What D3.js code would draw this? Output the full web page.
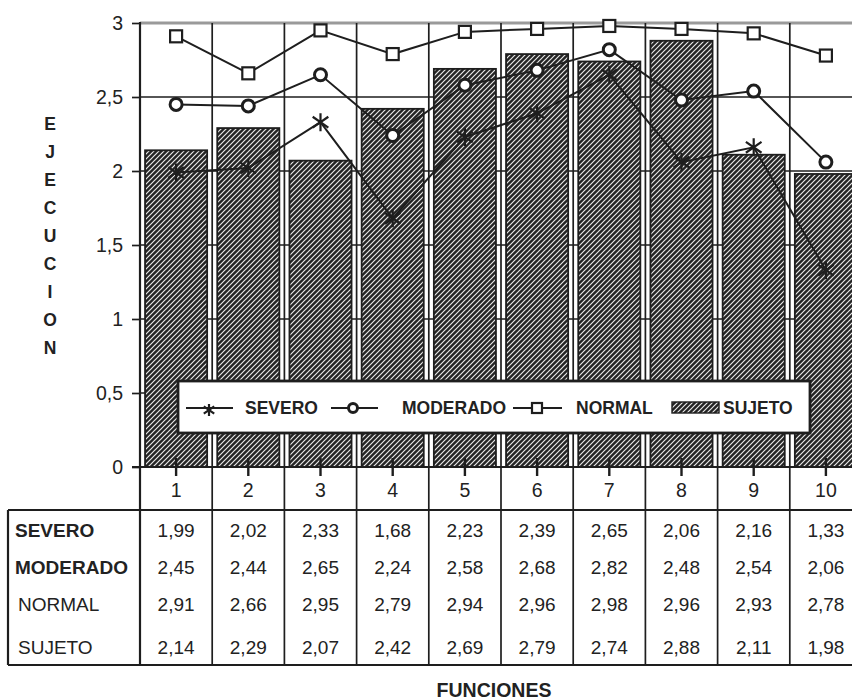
<!DOCTYPE html>
<html>
<head>
<meta charset="utf-8">
<script src="https://cdn.jsdelivr.net/npm/d3@7"></script>
<style>
  html, body { margin: 0; padding: 0; background: #fff; }
  svg { display: block; font-family: "Liberation Sans", Arial, Helvetica, sans-serif; }
</style>
</head>
<body>
<svg id="chart" width="852" height="700"></svg>
<script>
// ---- data ----
const categories = ["1", "2", "3", "4", "5", "6", "7", "8", "9", "10"];
const severo   = [1.99, 2.02, 2.33, 1.68, 2.23, 2.39, 2.65, 2.06, 2.16, 1.33];
const moderado = [2.45, 2.44, 2.65, 2.24, 2.58, 2.68, 2.82, 2.48, 2.54, 2.06];
const normal   = [2.91, 2.66, 2.95, 2.79, 2.94, 2.96, 2.98, 2.96, 2.93, 2.78];
const sujeto   = [2.14, 2.29, 2.07, 2.42, 2.69, 2.79, 2.74, 2.88, 2.11, 1.98];
const yTicks = [0, 0.5, 1, 1.5, 2, 2.5, 3];
const yTickLabels = ["0", "0,5", "1", "1,5", "2", "2,5", "3"];
const seriesNames = ["SEVERO", "MODERADO", "NORMAL", "SUJETO"];
const yTitle = "EJECUCION";
const xTitle = "FUNCIONES";

// ---- layout ----
const svg = d3.select("#chart");
const pL = 140, pR = 862, pT = 23, pB = 467;
const ink = "#1e1e1e";

const x = d3.scaleBand().domain(categories).range([pL, pR]).paddingInner(0.14).paddingOuter(0.07);
const y = d3.scaleLinear().domain([0, 3]).range([pB, pT]);
const step = x.step();
const cx = c => x(c) + x.bandwidth() / 2;
const colLeft = i => pL + i * step;

// pattern
const defs = svg.append("defs");
const pat = defs.append("pattern").attr("id", "hatch").attr("patternUnits", "userSpaceOnUse")
  .attr("width", 5).attr("height", 5);
pat.append("rect").attr("width", 5).attr("height", 5).attr("fill", "#242424");
pat.append("path").attr("d", "M-1,6 L6,-1 M-1,1 L1,-1 M4,6 L6,4")
  .attr("stroke", "#e8e8e8").attr("stroke-width", 1.2);

// horizontal gridlines
svg.append("g").selectAll("line").data(yTicks.filter(t => t > 0 && t < 3)).join("line")
  .attr("x1", pL).attr("x2", 852).attr("y1", d => y(d)).attr("y2", d => y(d))
  .attr("stroke", ink).attr("stroke-width", 1.7);
// top line (gray)
svg.append("line").attr("x1", pL).attr("x2", 852).attr("y1", y(3)).attr("y2", y(3))
  .attr("stroke", "#9a9a9a").attr("stroke-width", 3);

// vertical gridlines / column separators (plot + table)
svg.append("g").selectAll("line").data(d3.range(1, categories.length + 1)).join("line")
  .attr("x1", d => colLeft(d)).attr("x2", d => colLeft(d))
  .attr("y1", pT).attr("y2", 665)
  .attr("stroke", ink).attr("stroke-width", 1.7);

// bars
svg.append("g").selectAll("rect").data(categories).join("rect")
  .attr("x", (c) => x(c)).attr("width", x.bandwidth())
  .attr("y", (c, i) => y(sujeto[i])).attr("height", (c, i) => y(0) - y(sujeto[i]))
  .attr("fill", "url(#hatch)").attr("stroke", ink).attr("stroke-width", 1.8);

// y axis
const yAxis = d3.axisLeft(y).tickValues(yTicks).tickSize(8).tickPadding(9)
  .tickFormat((d, i) => yTickLabels[i]);
const gy = svg.append("g").attr("transform", `translate(${pL},0)`).call(yAxis);
gy.select(".domain").remove();
gy.selectAll(".tick line").attr("stroke", ink).attr("stroke-width", 1.7);
gy.selectAll(".tick text").attr("font-size", 19.5).attr("fill", "#222")
  .attr("font-family", "'Liberation Sans', Arial, sans-serif");
svg.append("line").attr("x1", pL).attr("x2", pL).attr("y1", pT - 1).attr("y2", 665)
  .attr("stroke", ink).attr("stroke-width", 2.2);

// x axis line
svg.append("line").attr("x1", pL - 8).attr("x2", 852).attr("y1", pB).attr("y2", pB)
  .attr("stroke", ink).attr("stroke-width", 2.2);
// x ticks crossing the axis
svg.append("g").selectAll("line").data(categories).join("line")
  .attr("x1", c => cx(c)).attr("x2", c => cx(c)).attr("y1", pB - 9).attr("y2", pB + 9)
  .attr("stroke", ink).attr("stroke-width", 2.4);
// category labels
svg.append("g").selectAll("text").data(categories).join("text")
  .attr("x", c => cx(c)).attr("y", 490).attr("dy", "0.35em")
  .attr("text-anchor", "middle").attr("font-size", 19.5).attr("fill", "#222").text(c => c);

// lines
const line = d3.line().x((d, i) => cx(categories[i])).y(d => y(d));
[severo, moderado, normal].forEach(s => {
  svg.append("path").datum(s).attr("d", line).attr("fill", "none")
    .attr("stroke", ink).attr("stroke-width", 2);
});

// markers
function star(g, px, py, r) {
  g.append("path").attr("d",
    `M${px},${py - r}L${px},${py + r}M${px - r * 0.87},${py - r * 0.6}L${px + r * 0.87},${py + r * 0.6}M${px - r * 0.87},${py + r * 0.6}L${px + r * 0.87},${py - r * 0.6}`)
    .attr("stroke", ink).attr("stroke-width", 2.2).attr("fill", "none");
}
function circ(g, px, py, r) {
  g.append("circle").attr("cx", px).attr("cy", py).attr("r", r)
    .attr("fill", "#fff").attr("stroke", ink).attr("stroke-width", 3);
}
function sq(g, px, py, s) {
  g.append("rect").attr("x", px - s / 2).attr("y", py - s / 2).attr("width", s).attr("height", s)
    .attr("fill", "#fff").attr("stroke", ink).attr("stroke-width", 2.2);
}
const mk = svg.append("g");
severo.forEach((v, i) => star(mk, cx(categories[i]), y(v), 9));
moderado.forEach((v, i) => circ(mk, cx(categories[i]), y(v), 6));
normal.forEach((v, i) => sq(mk, cx(categories[i]), y(v), 12));

// legend
const lg = svg.append("g");
lg.append("rect").attr("x", 178).attr("y", 381).attr("width", 632).attr("height", 52)
  .attr("fill", "#fff").attr("stroke", ink).attr("stroke-width", 2.8);
const ly = 408;
const lgText = (tx, t) => lg.append("text").attr("x", tx).attr("y", ly).attr("dy", "0.36em")
  .attr("font-size", 17.5).attr("font-weight", "bold").attr("fill", "#222").text(t);
lg.append("line").attr("x1", 186).attr("x2", 233).attr("y1", ly).attr("y2", ly).attr("stroke", ink).attr("stroke-width", 2);
star(lg, 209, ly + 2, 6);
lgText(245, seriesNames[0]);
lg.append("line").attr("x1", 331).attr("x2", 378).attr("y1", ly).attr("y2", ly).attr("stroke", ink).attr("stroke-width", 2);
circ(lg, 353, ly, 4.5);
lgText(402, seriesNames[1]);
lg.append("line").attr("x1", 513).attr("x2", 562).attr("y1", ly).attr("y2", ly).attr("stroke", ink).attr("stroke-width", 2);
sq(lg, 537, ly, 10);
lgText(576, seriesNames[2]);
lg.append("rect").attr("x", 672).attr("y", 402).attr("width", 47).attr("height", 11)
  .attr("fill", "url(#hatch)").attr("stroke", ink).attr("stroke-width", 1.4);
lgText(723, seriesNames[3]);

// table
const tb = svg.append("g");
tb.append("line").attr("x1", 8).attr("x2", 852).attr("y1", 510).attr("y2", 510).attr("stroke", ink).attr("stroke-width", 2.2);
tb.append("line").attr("x1", 8).attr("x2", 852).attr("y1", 665).attr("y2", 665).attr("stroke", ink).attr("stroke-width", 2.2);
tb.append("line").attr("x1", 8).attr("x2", 8).attr("y1", 510).attr("y2", 665).attr("stroke", ink).attr("stroke-width", 2.2);
const rowsY = [530, 567, 604, 647];
const rowData = [severo, moderado, normal, sujeto];
const rowBold = [true, true, false, false];
const fmt = v => d3.format(".2f")(v).replace(".", ",");
rowData.forEach((s, r) => {
  tb.append("text").attr("x", r < 2 ? 15 : 18).attr("y", rowsY[r]).attr("dy", "0.36em")
    .attr("font-size", 19).attr("font-weight", rowBold[r] ? "bold" : "normal")
    .attr("fill", "#222").text(seriesNames[r]);
  tb.selectAll(null).data(s).join("text")
    .attr("x", (v, i) => cx(categories[i])).attr("y", rowsY[r]).attr("dy", "0.36em")
    .attr("text-anchor", "middle").attr("font-size", 19).attr("fill", "#222").text(v => fmt(v));
});

// axis titles
svg.append("g").selectAll("text").data(yTitle.split("")).join("text")
  .attr("x", 50).attr("y", (d, i) => 124 + i * 27.9).attr("dy", "0.36em")
  .attr("text-anchor", "middle").attr("font-size", 17.5).attr("font-weight", "bold")
  .attr("fill", "#222").text(d => d);
svg.append("text").attr("x", 494).attr("y", 690).attr("dy", "0.36em").attr("text-anchor", "middle")
  .attr("font-size", 19.5).attr("font-weight", "bold").attr("fill", "#222").text(xTitle);
</script>
</body>
</html>
